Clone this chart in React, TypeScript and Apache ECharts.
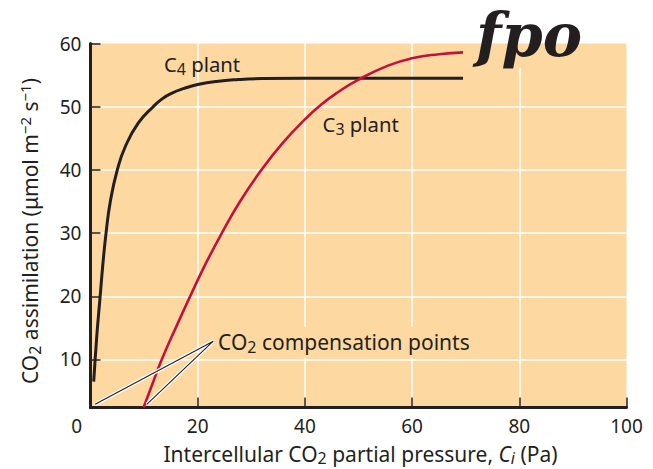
import React, { useEffect, useRef } from "react";
import * as echarts from "echarts";

// ---- data ----
const xMin = 0;
const xMax = 100;
const xStep = 20;
const yMin = 2.4;
const yMax = 60;

// C4 plant assimilation curve [Ci (Pa), A (µmol m-2 s-1)]
const c4Plant: [number, number][] = [
  [0.6, 6.5], [1.2, 14], [1.8, 20], [2.3, 25], [2.9, 30], [3.7, 35], [5.0, 40],
  [6.5, 43.7], [8.9, 47.4], [11.7, 50], [13.3, 51.2], [15.1, 52.1], [17.5, 52.9],
  [20, 53.5], [23.5, 54.0], [27.6, 54.3], [32, 54.45], [40, 54.5], [69.5, 54.5],
];

// C3 plant assimilation curve
const c3Plant: [number, number][] = [
  [9.9, 2.4], [11.5, 6], [13.3, 10], [15.9, 15], [18.6, 20], [21.4, 25], [24.5, 30],
  [27.9, 35], [31.9, 40], [35.8, 44.2], [40, 48], [43, 50.3], [46, 52.2],
  [49.6, 54.1], [55.5, 56.5], [60.2, 57.7], [65, 58.3], [69.5, 58.6],
];

// leader lines: compensation points and the label apex
const compensationLeader: [number, number][] = [[0.87, 2.9], [22.9, 12.9], [10.5, 2.9]];

// label anchors (data coordinates)
const c4LabelAnchor: [number, number] = [13.7, 56.8];
const c3LabelAnchor: [number, number] = [43.3, 47.3];
const compLabelAnchor: [number, number] = [23.8, 12.8];

const INK = "#231f20";
const RED = "#c4103d";
const BG = "#fdd9a1";
const FONT = "Noto Sans";

function makeRich(size: number, lh: number, subLh: number, supLh: number) {
  const sub = Math.round(size * 0.78);
  const sup = Math.round(size * 0.7);
  return {
    n: { fontFamily: FONT, fontSize: size, lineHeight: lh, fill: INK },
    ni: { fontFamily: FONT, fontSize: size, lineHeight: lh, fill: INK, fontStyle: "italic" },
    sb: { fontFamily: FONT, fontSize: sub, lineHeight: subLh, verticalAlign: "bottom", fill: INK },
    sbi: { fontFamily: FONT, fontSize: sub, lineHeight: subLh, verticalAlign: "bottom", fill: INK, fontStyle: "italic" },
    sp: { fontFamily: FONT, fontSize: sup, lineHeight: supLh, verticalAlign: "top", fill: INK },
  };
}

export default function App() {
  const ref = useRef<HTMLDivElement>(null);
  useEffect(() => {
    if (!ref.current) return;
    const chart = echarts.init(ref.current, null, { renderer: "svg" });
    chart.setOption({
      animation: false,
      grid: { left: 90.5, top: 43.5, width: 536, height: 364, show: true, backgroundColor: BG, borderWidth: 0 },
      xAxis: {
        type: "value",
        min: xMin,
        max: xMax,
        interval: xStep,
        axisLine: { show: true, lineStyle: { color: INK, width: 3 } },
        axisTick: { show: true, inside: true, length: 10, lineStyle: { color: INK, width: 1.5 } },
        axisLabel: {
          margin: 9,
          fontFamily: FONT,
          fontSize: 19,
          color: INK,
          formatter: (v: number) => (v === 0 ? "" : String(v)),
        },
        splitLine: { show: true, showMinLine: false, showMaxLine: false, lineStyle: { color: "#ffffff", width: 1.5 } },
      },
      yAxis: {
        type: "value",
        min: yMin,
        max: yMax,
        splitNumber: 6,
        axisLine: { show: true, lineStyle: { color: INK, width: 3 } },
        axisTick: { show: true, inside: true, length: 10, lineStyle: { color: INK, width: 1.5 } },
        axisLabel: {
          margin: 9,
          fontFamily: FONT,
          fontSize: 19,
          color: INK,
          formatter: (v: number) => (v % 10 === 0 ? String(v) : ""),
        },
        splitLine: { show: true, showMinLine: false, showMaxLine: false, lineStyle: { color: "#ffffff", width: 1.5 } },
      },
      series: [
        {
          name: "C4 plant",
          type: "line",
          data: c4Plant,
          smooth: 0.5,
          showSymbol: false,
          lineStyle: { color: INK, width: 3 },
          z: 3,
        },
        {
          name: "C3 plant",
          type: "line",
          data: c3Plant,
          smooth: 0.5,
          showSymbol: false,
          lineStyle: { color: RED, width: 2.6 },
          z: 3,
        },
        {
          name: "leader halo",
          type: "line",
          data: compensationLeader,
          showSymbol: false,
          lineStyle: { color: "#ffffff", width: 3.5 },
          z: 4,
        },
        {
          name: "leader",
          type: "line",
          data: compensationLeader,
          showSymbol: false,
          lineStyle: { color: INK, width: 1.1 },
          z: 5,
        },
      ],
    });

    const px = (p: [number, number]) => chart.convertToPixel({ gridIndex: 0 }, p) as number[];
    const c4 = px(c4LabelAnchor);
    const c3 = px(c3LabelAnchor);
    const cp = px(compLabelAnchor);
    const origin = px([xMin, yMin]);

    const richLabel = makeRich(20.3, 26, 15, 16);
    const richComp = makeRich(21, 26, 15, 16);
    const richX = makeRich(21, 24, 14, 16);
    const richY = makeRich(21, 26, 15, 16);

    chart.setOption({
      graphic: [
        {
          type: "rect",
          z: 1,
          shape: { x: cp[0] - 3, y: cp[1] - 15, width: 260, height: 31 },
          style: { fill: BG },
          silent: true,
        },
        {
          type: "rect",
          z: 1,
          shape: { x: 476, y: 44, width: 115, height: 24 },
          style: { fill: BG },
          silent: true,
        },
        {
          type: "text",
          z: 10,
          x: c4[0],
          y: c4[1],
          style: { text: "{n|C}{sb|4}{n| plant}", rich: richLabel, align: "left", verticalAlign: "middle" },
        },
        {
          type: "text",
          z: 10,
          x: c3[0],
          y: c3[1],
          style: { text: "{n|C}{sb|3}{n| plant}", rich: richLabel, align: "left", verticalAlign: "middle" },
        },
        {
          type: "text",
          z: 10,
          x: cp[0],
          y: cp[1],
          style: { text: "{n|CO}{sb|2}{n| compensation points}", rich: richComp, align: "left", verticalAlign: "middle" },
        },
        {
          type: "text",
          z: 10,
          x: origin[0] - 8.5,
          y: origin[1] + 18.5,
          style: {
            text: "0",
            fontFamily: FONT,
            fontSize: 19,
            fill: INK,
            align: "right",
            verticalAlign: "middle",
            textAlign: "right",
            textVerticalAlign: "middle",
          },
        },
        {
          type: "text",
          z: 10,
          x: 360.5,
          y: 453.5,
          style: {
            text: "{n|Intercellular CO}{sb|2}{n| partial pressure, }{ni|C}{sbi|i}{n| (Pa)}",
            rich: richX,
            align: "center",
            verticalAlign: "middle",
          },
        },
        {
          type: "text",
          z: 10,
          x: 30,
          y: 231,
          rotation: Math.PI / 2,
          style: {
            text: "{n|CO}{sb|2}{n| assimilation (μmol m}{sp|−2}{n| s}{sp|−1}{n|)}",
            rich: richY,
            align: "center",
            verticalAlign: "middle",
          },
        },
        {
          type: "text",
          z: 10,
          x: 476,
          y: 35,
          style: {
            text: "fpo",
            fontFamily: "DejaVu Serif",
            fontStyle: "italic",
            fontWeight: "bold",
            fontSize: 59,
            fill: INK,
            align: "left",
            verticalAlign: "middle",
          },
        },
      ],
    });

    return () => chart.dispose();
  }, []);

  return (
    <div
      ref={ref}
      style={{ position: "fixed", left: 0, top: 0, width: 653, height: 469, background: "#ffffff" }}
    />
  );
}
